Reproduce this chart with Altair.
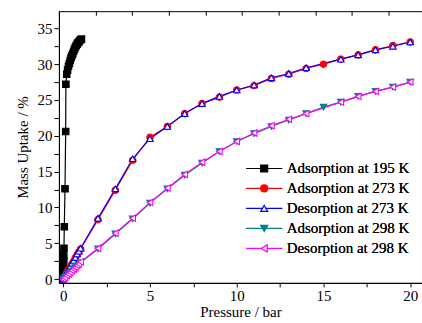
import altair as alt
import pandas as pd

series_names = ["Adsorption at 195 K", "Adsorption at 273 K", "Desorption at 273 K",
                "Adsorption at 298 K", "Desorption at 298 K"]
series_colors = ["#000000", "#ff0000", "#0000ff", "#008080", "#ff00ff"]
series_fills = ["#000000", "#ff0000", "#ffffff", "#008080", "#ffffff"]
series_shapes = ["square", "circle", "triangle-up", "triangle-down", "triangle-left"]

p_195 = [0.0, 0.0, 0.01, 0.01, 0.01, 0.02, 0.02, 0.02, 0.04, 0.06, 0.1, 0.14, 0.15, 0.2, 0.25, 0.3,
         0.35, 0.4, 0.45, 0.5, 0.55, 0.6, 0.65, 0.7, 0.75, 0.8, 0.85, 0.9, 0.95, 1.0, 1.05]
u_195 = [0.0, 0.5, 1.0, 1.5, 2.0, 2.5, 3.0, 3.3, 4.3, 7.3, 12.6, 20.6, 27.2, 28.6, 29.2, 29.7,
         30.1, 30.5, 30.9, 31.2, 31.5, 31.8, 32.1, 32.4, 32.6, 32.8, 33.0, 33.1, 33.3, 33.4, 33.5]

p_273a = [0.0, 0.1, 0.2, 0.3, 0.4, 0.5, 0.6, 0.7, 0.8, 0.9, 1, 2, 3, 4, 5, 6, 7, 8, 9, 10,
          11, 12, 13, 14, 15, 16, 17, 18, 19, 20]
u_273a = [0.0, 0.4, 0.9, 1.3, 1.7, 2.1, 2.5, 3.0, 3.4, 3.8, 4.2, 8.3, 12.4, 16.6, 19.8, 21.3,
          23.1, 24.5, 25.4, 26.4, 27.0, 28.0, 28.6, 29.4, 30.0, 30.7, 31.3, 32.0, 32.6, 33.1]

p_273d = [0.0, 0.1, 0.2, 0.3, 0.4, 0.5, 0.6, 0.7, 0.8, 0.9, 1, 2, 3, 4, 5, 6, 7, 8, 9, 10,
          11, 12, 13, 14, 16, 17, 18, 19, 20]
u_273d = [0.0, 0.5, 0.9, 1.3, 1.8, 2.2, 2.6, 3.0, 3.5, 3.9, 4.3, 8.5, 12.6, 16.8, 19.6, 21.3,
          23.1, 24.5, 25.5, 26.4, 27.1, 28.1, 28.7, 29.5, 30.7, 31.3, 32.0, 32.5, 33.1]

p_298a = [0.0, 0.1, 0.2, 0.3, 0.4, 0.5, 0.6, 0.7, 0.8, 0.9, 1, 2, 3, 4, 5, 6, 7, 8, 9, 10,
          11, 12, 13, 14, 15, 16, 17, 18, 19, 20]
u_298a = [0.0, 0.2, 0.4, 0.7, 0.9, 1.1, 1.4, 1.6, 1.8, 2.0, 2.3, 4.2, 6.3, 8.4, 10.6, 12.6,
          14.5, 16.2, 17.8, 19.2, 20.3, 21.3, 22.2, 23.1, 24.0, 24.7, 25.5, 26.2, 26.8, 27.5]

p_298d = [0.0, 0.1, 0.2, 0.3, 0.4, 0.5, 0.6, 0.7, 0.8, 0.9, 1, 2, 3, 4, 5, 6, 7, 8, 9, 10,
          11, 12, 13, 14, 16, 17, 18, 19, 20]
u_298d = [0.0, 0.2, 0.5, 0.7, 0.9, 1.2, 1.4, 1.6, 1.9, 2.1, 2.4, 4.3, 6.4, 8.5, 10.7, 12.7,
          14.6, 16.3, 17.8, 19.2, 20.4, 21.4, 22.3, 23.1, 24.7, 25.5, 26.2, 26.8, 27.5]

x_ticks = [0, 2.5, 5, 7.5, 10, 12.5, 15, 17.5, 20]
y_ticks = [0, 2.5, 5, 7.5, 10, 12.5, 15, 17.5, 20, 22.5, 25, 27.5, 30, 32.5, 35]
top_ticks = [-0.24, 1.87, 3.98, 6.09, 8.19, 10.3, 12.41, 14.52, 16.63, 18.74]

pressures = [p_195, p_273a, p_273d, p_298a, p_298d]
uptakes = [u_195, u_273a, u_273d, u_298a, u_298d]

frames = []
for name, ps, us in zip(series_names, pressures, uptakes):
    frames.append(pd.DataFrame({"series": name, "label": name, "pressure": ps, "uptake": us,
                                "idx": list(range(len(ps)))}))
df = pd.concat(frames, ignore_index=True)

FONT = "Liberation Serif"
X_DOMAIN = [-0.25, 20.68]
Y_DOMAIN = [-0.53, 37.4]

leg = dict(orient="none", legendX=184, legendY=150, title=None,
           symbolSize=49, symbolStrokeWidth=1.2, symbolOffset=14, labelOffset=15,
           rowPadding=4, labelFont=FONT, labelFontSize=15, labelColor="black",
           symbolOpacity=1)

lines = alt.Chart(df).mark_line(strokeWidth=1.2, clip=True).encode(
    x=alt.X("pressure:Q", scale=alt.Scale(domain=X_DOMAIN, nice=False, zero=False),
            axis=alt.Axis(values=x_ticks, labelExpr="datum.value % 5 == 0 ? datum.label : ''",
                          title="Pressure / bar", tickSize=4, labelPadding=2, titlePadding=1,
                          grid=False)),
    y=alt.Y("uptake:Q", scale=alt.Scale(domain=Y_DOMAIN, nice=False, zero=False),
            axis=alt.Axis(values=y_ticks, labelExpr="datum.value % 5 == 0 ? datum.label : ''",
                          title="Mass Uptake / %", tickSize=5, labelPadding=2, titlePadding=6,
                          grid=False)),
    color=alt.Color("label:N", scale=alt.Scale(range=series_colors), sort=series_names,
                    legend=alt.Legend(symbolType="M-5.2,0H5.2", **leg)),
    order="idx:Q",
)

points = alt.Chart(df).mark_point(size=42, strokeWidth=1.1, opacity=1, fillOpacity=1,
                                  clip=True).encode(
    x=alt.X("pressure:Q", scale=alt.Scale(domain=X_DOMAIN, nice=False, zero=False),
            axis=alt.Axis(orient="top", values=top_ticks, labels=False, ticks=True,
                          tickSize=4, domain=False, title=None, grid=False, offset=-4)),
    y=alt.Y("uptake:Q", scale=alt.Scale(domain=Y_DOMAIN, nice=False, zero=False), axis=None),
    stroke=alt.Stroke("series:N", scale=alt.Scale(domain=series_names, range=series_colors),
                      sort=series_names, legend=alt.Legend(**leg)),
    fill=alt.Fill("series:N", scale=alt.Scale(domain=series_names, range=series_fills),
                  sort=series_names, legend=alt.Legend(**leg)),
    shape=alt.Shape("series:N", scale=alt.Scale(domain=series_names, range=series_shapes),
                    sort=series_names, legend=alt.Legend(**leg)),
)

chart = alt.layer(lines, points).resolve_scale(x="independent", y="independent").resolve_axis(
    x="independent", y="independent").properties(
    width=363.5, height=272,
    background="white",
    autosize=alt.AutoSizeParams(type="none"),
    padding={"left": 59, "top": 11, "right": 0, "bottom": 40},
).configure_view(stroke="black", strokeWidth=1).configure_axis(
    labelFont=FONT, titleFont=FONT, labelFontSize=15, titleFontSize=15,
    labelColor="black", titleColor="black", tickColor="black", domainColor="black",
    titleFontWeight="normal", domainWidth=1, tickWidth=1,
)

chart.save("out.html", embed_options={"renderer": "svg", "actions": False})
